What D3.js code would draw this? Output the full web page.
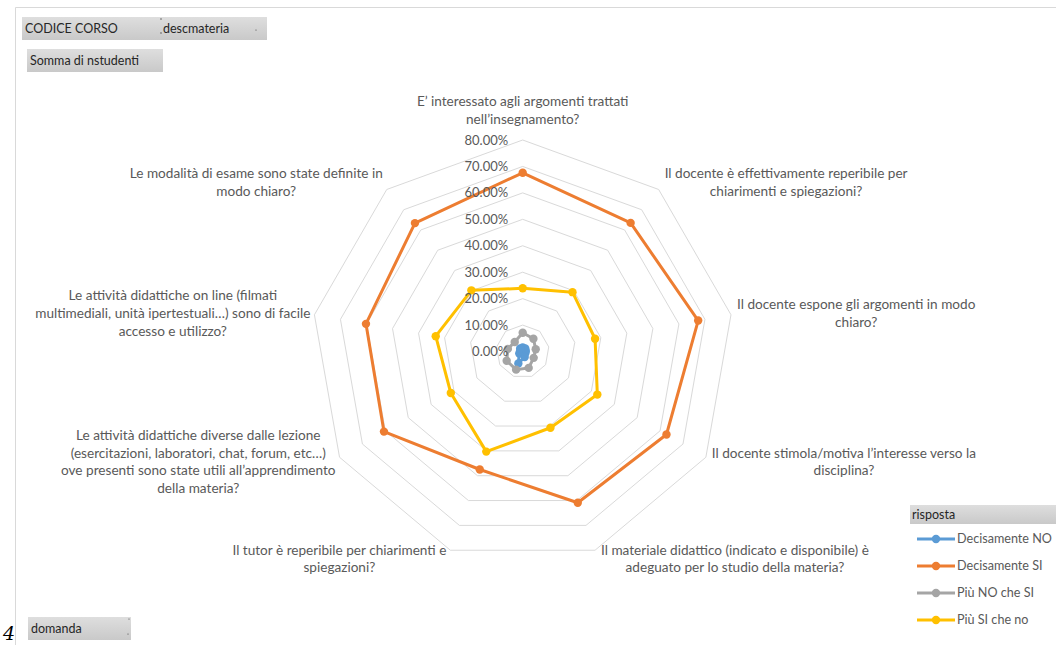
<!DOCTYPE html>
<html><head><meta charset="utf-8">
<script src="https://cdn.jsdelivr.net/npm/d3@7"></script>
<style>
body{margin:0;background:#fff;}
text{font-family:Lato,"Open Sans",sans-serif;}
</style></head>
<body><svg id="c" width="1056" height="645"></svg>
<script>
const categories = [
  ["E’ interessato agli argomenti trattati","nell’insegnamento?"],
  ["Il docente è effettivamente reperibile per","chiarimenti e spiegazioni?"],
  ["Il docente espone gli argomenti in modo","chiaro?"],
  ["Il docente stimola/motiva l’interesse verso la","disciplina?"],
  ["Il materiale didattico (indicato e disponibile) è","adeguato per lo studio della materia?"],
  ["Il tutor è reperibile per chiarimenti e","spiegazioni?"],
  ["Le attività didattiche diverse dalle lezione","(esercitazioni, laboratori, chat, forum, etc…)","ove presenti sono state utili all’apprendimento","della materia?"],
  ["Le attività didattiche on line (filmati","multimediali, unità ipertestuali…) sono di facile","accesso e utilizzo?"],
  ["Le modalità di esame sono state definite in","modo chiaro?"]
];
const seriesNames = ["Decisamente NO","Decisamente SI","Più NO che SI","Più SI che no"];
const decisamenteNO = [0.015,0.015,0.012,0.012,0.022,0.048,0.015,0.010,0.015];
const decisamenteSI = [0.676,0.635,0.674,0.628,0.609,0.475,0.606,0.602,0.634];
const piuNOcheSI   = [0.071,0.063,0.050,0.048,0.066,0.073,0.070,0.057,0.047];
const piuSIcheNo   = [0.239,0.293,0.278,0.326,0.307,0.403,0.314,0.334,0.302];
const tickValues = [0,0.1,0.2,0.3,0.4,0.5,0.6,0.7,0.8];
const colors = ["#5B9BD5","#ED7D31","#A5A5A5","#FFC000"];

const svg = d3.select("#c");
const defs = svg.append("defs");
const g1 = defs.append("linearGradient").attr("id","btn").attr("x1",0).attr("y1",0).attr("x2",0).attr("y2",1);
g1.append("stop").attr("offset","0%").attr("stop-color","#dedede");
g1.append("stop").attr("offset","100%").attr("stop-color","#c9c9c9");

// chart area border
svg.append("path").attr("d","M15.5,645 V7.5 H1056").attr("fill","none").attr("stroke","#d9d9d9");

const cx = 522.7, cy = 351.5, R = 211.5;
const r = d3.scaleLinear().domain([0,0.8]).range([0,R]);
const n = categories.length;
const ang = d3.scaleLinear().domain([0,n]).range([0,2*Math.PI]);
const plot = svg.append("g").attr("transform",`translate(${cx},${cy})`);

// grid rings
const ring = d3.lineRadial().angle((d,i)=>ang(i)).radius(d=>r(d)).curve(d3.curveLinearClosed);
tickValues.filter(t=>t>0).forEach(t=>{
  plot.append("path").attr("d",ring(d3.range(n).map(()=>t)))
    .attr("fill","none").attr("stroke","#d9d9d9").attr("stroke-width",1);
});

// series
const allSeries = [decisamenteNO,decisamenteSI,piuNOcheSI,piuSIcheNo];
const line = d3.lineRadial().angle((d,i)=>ang(i)).radius(d=>r(d)).curve(d3.curveLinearClosed);
allSeries.forEach((vals,si)=>{
  const g = plot.append("g");
  g.append("path").attr("d",line(vals)).attr("fill","none")
    .attr("stroke",colors[si]).attr("stroke-width",3).attr("stroke-linejoin","round");
  g.selectAll("circle").data(vals).join("circle")
    .attr("cx",(d,i)=>r(d)*Math.sin(ang(i)))
    .attr("cy",(d,i)=>-r(d)*Math.cos(ang(i)))
    .attr("r",4.2).attr("fill",colors[si]);
});

// tick labels
plot.selectAll("text.tick").data(tickValues).join("text").attr("class","tick")
  .attr("x",-14.5).attr("y",d=>-r(d)).attr("dy","0.35em").attr("text-anchor","end")
  .attr("font-size",13).attr("fill","#595959").text(d=>d3.format(".2%")(d));

// category labels
const lh = 17.7, fs = 13.6;
categories.forEach((lines,i)=>{
  const a = ang(i), s = Math.sin(a), c = Math.cos(a);
  const vx = cx + R*s, vy = cy - R*c;
  const g = svg.append("g");
  const texts = lines.map(l=>g.append("text").attr("font-size",fs).attr("fill","#595959").attr("text-anchor","middle").text(l));
  const w = d3.max(texts, t=>t.node().getComputedTextLength());
  let mx, ctrY;
  const h = lines.length*lh;
  if (Math.abs(s) < 0.1) { mx = vx; ctrY = vy - 12 - h/2; }
  else if (s > 0) { mx = vx + 6 + w/2; ctrY = vy - 9*c; }
  else { mx = vx - 4 - w/2; ctrY = vy - 9*c; }
  texts.forEach((t,k)=>t.attr("x",mx).attr("y",ctrY - h/2 + lh*(k+0.5)).attr("dy","0.35em"));
});

// field buttons
function button(x,y,w,h,label){
  svg.append("rect").attr("x",x).attr("y",y).attr("width",w).attr("height",h).attr("fill","url(#btn)");
  svg.append("text").attr("x",x+3).attr("y",y+h/2).attr("dy","0.35em").attr("font-size",12.5).attr("fill","#262626").text(label);
}
button(22,17,245,23,"CODICE CORSO");
svg.append("text").attr("x",163).attr("y",28.5).attr("dy","0.35em").attr("font-size",12.5).attr("fill","#262626").text("descmateria");
svg.append("circle").attr("cx",161).attr("cy",19).attr("r",0.7).attr("fill","#444");
svg.append("circle").attr("cx",161).attr("cy",33).attr("r",0.7).attr("fill","#444");
svg.append("circle").attr("cx",256).attr("cy",30).attr("r",0.6).attr("fill","#444");
button(27,49,136,23,"Somma di nstudenti");
button(28,617,103,23,"domanda");
svg.append("circle").attr("cx",129).attr("cy",619).attr("r",0.6).attr("fill","#444");
svg.append("circle").attr("cx",128).attr("cy",634).attr("r",0.6).attr("fill","#444");
svg.append("text").attr("x",3).attr("y",640).attr("font-size",19).attr("font-style","italic")
  .style("font-family","'DejaVu Serif',serif").attr("fill","#000").text("4");

// legend
svg.append("rect").attr("x",910).attr("y",505).attr("width",146).attr("height",19).attr("fill","url(#btn)");
svg.append("text").attr("x",912).attr("y",514.5).attr("dy","0.35em").attr("font-size",12.5).attr("fill","#262626").text("risposta");
const leg = svg.selectAll("g.leg").data(seriesNames).join("g").attr("class","leg")
  .attr("transform",(d,i)=>`translate(917,${539+i*27})`);
leg.append("line").attr("x1",0).attr("x2",38).attr("stroke",(d,i)=>colors[i]).attr("stroke-width",3);
leg.append("circle").attr("cx",19).attr("r",4.2).attr("fill",(d,i)=>colors[i]);
leg.append("text").attr("x",40).attr("dy","0.35em").attr("font-size",12.6).attr("fill","#595959").text(d=>d);
</script></body></html>
